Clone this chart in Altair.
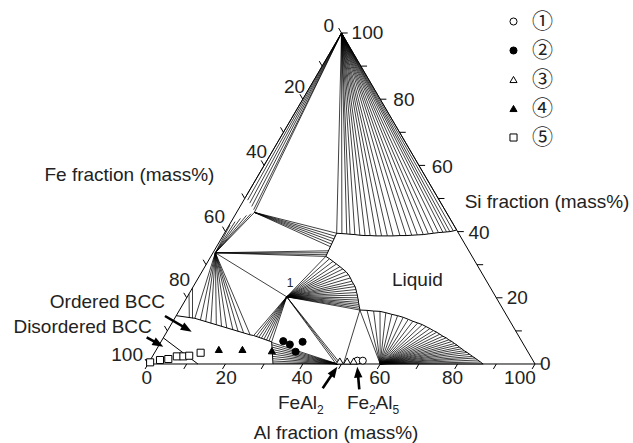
import math
import altair as alt
import pandas as pd

# ---------------- measured data (ternary, mass%: Al, Si; Fe = 100 - Al - Si) ----------------
series = ["①", "②", "③", "④", "⑤"]
s1_al = [53.6, 55.0]
s1_si = [1.0, 1.0]
s2_al = [31.5, 33.7, 36.6, 36.3]
s2_si = [6.9, 5.9, 6.7, 3.7]
s3_al = [49.1, 51.0, 52.7]
s3_si = [0.9, 0.9, 0.9]
s4_al = [16.1, 22.2, 30.0]
s4_si = [4.4, 4.4, 4.0]
s5_al = [0.3, 2.5, 4.5, 6.3, 8.0, 9.4, 11.9]
s5_si = [0.5, 1.2, 1.5, 2.3, 2.3, 2.5, 3.4]

tick_values = [0, 10, 20, 30, 40, 50, 60, 70, 80, 90, 100]
label_values = [0, 20, 40, 60, 80, 100]

# invariant points (Al, Si)
si_corner = (0.0, 100.0)
node_A = (0.6, 33.6)
node_B = (4.6, 45.8)
node_E = (25.7, 20.3)
node_F = (46.6, 16.3)
node_FeAl2 = (49.0, 0.0)
node_Al60 = (60.0, 0.0)

# Si-rich liquidus: ends of tie-lines from the Si corner
liq1_al = [29.0, 30.4, 31.7, 32.6, 33.9, 35.3, 36.7, 38.0, 39.6, 41.0, 42.5, 44.0, 45.7,
           47.3, 48.7, 50.1, 51.6, 52.8, 54.0, 55.2, 56.3, 57.2, 58.0, 58.8, 59.5]
liq1_si = [39.5, 39.4, 39.3, 39.2, 39.1, 38.9, 38.8, 38.8, 38.7, 38.7, 38.7, 38.7, 38.8,
           38.8, 38.9, 39.0, 39.1, 39.3, 39.5, 39.7, 39.8, 39.9, 40.0, 40.2, 40.5]
# Si-corner tie-lines to the FeSi2 side
fesi2_al = [0.0, 1.0, 2.0, 3.0, 4.0, 4.6]
fesi2_si = [50.5, 49.5, 48.6, 47.6, 46.6, 45.8]
# FeSi (A) to FeSi2 side
afesi2_al = [0.2, 1.0, 1.9, 3.0, 3.9, 4.6]
afesi2_si = [42.0, 43.0, 44.0, 44.9, 45.4, 45.8]
# B to liquid (C-D)
bliq_al = [29.0, 29.1, 29.2, 29.3, 29.4, 29.5]
bliq_si = [39.5, 38.6, 37.8, 37.0, 36.2, 35.4]
# A to liquid near D
aliq_al = [29.6, 29.6, 29.7, 29.7]
aliq_si = [34.2, 33.6, 33.0, 32.5]
# liquidus D-F: ends of tie-lines from compound 1 (E)
liq2_al = [29.7, 31.0, 32.3, 33.6, 34.9, 36.0, 37.2, 38.3, 39.3, 40.2, 41.0, 41.8, 42.5,
           43.1, 43.7, 44.2, 44.7, 45.1, 45.5, 45.9, 46.3, 46.6]
liq2_si = [32.5, 31.8, 31.0, 30.2, 29.4, 28.7, 27.9, 27.0, 26.0, 25.0, 24.2, 23.4, 22.5,
           21.6, 20.8, 20.0, 19.3, 18.6, 18.0, 17.4, 16.8, 16.3]
# Al-rich liquidus F-G: ends of tie-lines from the Al 60 % phase
liq3_al = [46.6, 48.5, 50.3, 52.0, 53.7, 55.5, 57.2, 58.9, 60.5, 62.0, 63.5, 64.9, 66.2,
           67.5, 68.7, 69.8, 70.9, 72.0, 73.1, 74.1, 75.1, 76.1, 77.0, 77.9, 78.8, 79.7,
           80.7, 81.7, 82.7, 83.6, 84.6, 85.6, 86.6]
liq3_si = [16.3, 16.2, 16.0, 15.9, 15.5, 15.0, 14.6, 14.1, 13.5, 12.9, 12.4, 11.9, 11.3,
           10.7, 10.1, 9.6, 9.0, 8.4, 7.9, 7.3, 6.8, 6.2, 5.7, 5.1, 4.6, 4.0,
           3.5, 2.9, 2.3, 1.8, 1.2, 0.6, 0.0]
# ordered BCC boundary: tie-line ends from A, E and FeAl2
bcc_a_al = [5.2, 6.9, 8.5, 10.1, 11.7, 13.3, 14.9, 16.8, 18.4, 20.0, 22.0]
bcc_a_si = [13.8, 13.3, 12.8, 12.3, 11.9, 11.4, 10.9, 10.3, 9.8, 9.4, 8.8]
bcc_e_al = [23.0, 23.8, 24.6, 25.4, 26.2, 27.0, 27.8, 28.6]
bcc_e_si = [8.6, 8.3, 8.1, 7.8, 7.5, 7.2, 6.9, 6.7]
bcc_f_al = [28.7, 29.1, 29.5, 29.9, 30.3, 30.7, 31.1, 31.5, 31.9, 32.2]
bcc_f_si = [6.5, 5.8, 5.1, 4.4, 3.7, 3.0, 2.3, 1.6, 0.9, 0.3]
bnd_al = [0.0, 5.2, 22.0, 23.0, 28.6, 32.3]
bnd_si = [14.6, 13.8, 8.8, 8.6, 6.7, 0.0]
edge_si = [23.0, 21.2]
edge_end_al = [4.6, 3.7]
edge_end_si = [13.8, 13.95]
dis_al = [0.0, 12.9]
dis_si = [7.9, 0.0]
e_bottom_al = [48.6, 49.2, 49.8]
f_bottom_al = [50.5]

# tick-label anchors (x = Al + Si/2, y = Si)
left_lab_x = [48.1, 40.6, 30.8, 19.9, 10.9, -1.3]
left_lab_y = [102.1, 83.7, 64.0, 44.5, 25.4, 2.6]
right_lab_x = [101.3, 92.7, 82.8, 73.3, 63.4, 52.6]
right_lab_y = [0.0, 19.9, 39.6, 59.6, 79.8, 99.9]
bottom_lab_x = [-0.3, 20.2, 39.8, 59.9, 78.7, 96.1]
bottom_lab_y = -4.2

# ---------------- frame ----------------
X_DOMAIN = [-38.24, 125.32]
Y_DOMAIN = [-23.87, 109.97]
W, H = 633, 443
PXX = W / (X_DOMAIN[1] - X_DOMAIN[0])
PXY = H / (Y_DOMAIN[1] - Y_DOMAIN[0])
FONT = "Liberation Sans"


def tx(al, si):
    return al + si / 2.0


segs = []


def seg(p, q):
    segs.append(dict(x=tx(*p), y=p[1], x2=tx(*q), y2=q[1]))


fans = [
    (si_corner, liq1_al, liq1_si),
    (si_corner, fesi2_al, fesi2_si),
    (node_A, afesi2_al, afesi2_si),
    (node_B, bliq_al, bliq_si),
    (node_A, aliq_al, aliq_si),
    (node_E, liq2_al, liq2_si),
    (node_Al60, liq3_al, liq3_si),
    (node_A, bcc_a_al, bcc_a_si),
    (node_E, bcc_e_al, bcc_e_si),
    (node_FeAl2, bcc_f_al, bcc_f_si),
]
for origin, als, sis in fans:
    for a, s in zip(als, sis):
        seg(origin, (a, s))
for s, a2, s2 in zip(edge_si, edge_end_al, edge_end_si):
    seg((0.0, s), (a2, s2))
seg(node_A, node_E)
for a in e_bottom_al:
    seg(node_E, (a, 0.0))
for a in f_bottom_al:
    seg(node_F, (a, 0.0))

ticks = []
for v in tick_values:
    ticks.append(dict(x=tx(v, 0), y=0.0, x2=tx(v, 0) - 0.75, y2=-1.5))          # Al axis
    ticks.append(dict(x=tx(100 - v, v), y=v, x2=tx(100 - v, v) + 1.6, y2=v))    # Si axis
    s = 100 - v
    ticks.append(dict(x=tx(0, s), y=s, x2=s / 2 - 0.75, y2=s + 1.5))            # Fe axis

lines = []


def poly(name, als, sis):
    for i, (a, s) in enumerate(zip(als, sis)):
        lines.append(dict(name=name, i=i, x=tx(a, s), y=s))


poly("frame", [0, 100, 0, 0], [0, 0, 100, 0])
poly("liq1", liq1_al, liq1_si)
poly("cd", [liq1_al[0], liq2_al[0]], [liq1_si[0], liq2_si[0]])
poly("liq2", liq2_al, liq2_si)
poly("liq3", liq3_al, liq3_si)
poly("bnd", bnd_al, bnd_si)
poly("dis", dis_al, dis_si)

xs = alt.Scale(domain=X_DOMAIN, nice=False, zero=False)
ys = alt.Scale(domain=Y_DOMAIN, nice=False, zero=False)
X = alt.X("x:Q", scale=xs, axis=None)
Y = alt.Y("y:Q", scale=ys, axis=None)

seg_layer = alt.Chart(pd.DataFrame(segs)).mark_rule(color="black", strokeWidth=0.75).encode(
    x=X, y=Y, x2="x2:Q", y2="y2:Q")
tick_layer = alt.Chart(pd.DataFrame(ticks)).mark_rule(color="black", strokeWidth=1).encode(
    x=X, y=Y, x2="x2:Q", y2="y2:Q")
line_layer = alt.Chart(pd.DataFrame(lines)).mark_line(color="black", strokeWidth=1).encode(
    x=X, y=Y, detail="name:N", order="i:Q")

# tick labels
lab_left = pd.DataFrame(dict(t=[str(v) for v in label_values], x=left_lab_x, y=left_lab_y))
lab_right = pd.DataFrame(dict(t=[str(v) for v in label_values], x=right_lab_x, y=right_lab_y))
lab_bottom = pd.DataFrame(dict(t=[str(v) for v in label_values], x=bottom_lab_x,
                               y=[bottom_lab_y] * len(label_values)))


def text_layer(df, align, size=19):
    return alt.Chart(df).mark_text(align=align, baseline="middle", font=FONT, fontSize=size,
                                   color="#222222").encode(x=X, y=Y, text="t:N")


titles = pd.DataFrame(dict(
    t=["Fe fraction (mass%)", "Si fraction (mass%)", "Al fraction (mass%)",
       "Ordered BCC", "Disordered BCC", "Liquid"],
    x=[-4.8, 103.1, 48.6, -10.5, -16.9, 69.6],
    y=[57.1, 49.0, -20.9, 18.7, 11.3, 25.4]))
one = pd.DataFrame(dict(t=["1"], x=[36.7], y=[24.6]))
main_txt = pd.DataFrame(dict(t=["FeAl", "Fe", "Al"], x=[33.59, 51.42, 58.79], y=[-11.87] * 3))
sub_txt = pd.DataFrame(dict(t=["2", "2", "5"], x=[43.67, 57.1, 63.18], y=[-13.75] * 3))

# arrows (start, tip) in (x, y)
arrows = [((4.39, 14.5), (11.29, 9.76)),
          ((-0.34, 8.07), (3.95, 5.23)),
          ((45.14, -7.34), (48.91, -0.82)),
          ((54.6, -7.64), (54.08, -0.82))]
shafts, heads = [], []
for (x0, y0), (x1, y1) in arrows:
    dxp, dyp = (x1 - x0) * PXX, -(y1 - y0) * PXY
    L = math.hypot(dxp, dyp)
    ang = math.degrees(math.atan2(dxp, -dyp)) % 360
    back = 5.0 / L
    shafts.append(dict(x=x0, y=y0, x2=x1 - (x1 - x0) * back, y2=y1 - (y1 - y0) * back))
    heads.append(dict(x=x1, y=y1, ang=ang))
shaft_layer = alt.Chart(pd.DataFrame(shafts)).mark_rule(color="black", strokeWidth=2.6).encode(
    x=X, y=Y, x2="x2:Q", y2="y2:Q")
head_layer = alt.Chart(pd.DataFrame(heads)).mark_point(
    shape="M0,0L0.8,2.1L-0.8,2.1Z", filled=True, color="black", opacity=1, size=110).encode(
    x=X, y=Y, angle=alt.Angle("ang:Q", scale=None))

# samples
rows = []
for name, als, sis in zip(series, [s1_al, s2_al, s3_al, s4_al, s5_al],
                          [s1_si, s2_si, s3_si, s4_si, s5_si]):
    for a, s in zip(als, sis):
        rows.append(dict(series=name, x=tx(a, s), y=s))
pts = pd.DataFrame(rows)
leg = alt.Legend(title=None, orient="none", legendX=503, legendY=11, symbolSize=50,
                 labelFontSize=21, labelFont="Noto Sans CJK JP", labelColor="#222222",
                 rowPadding=7, labelOffset=8, symbolStrokeWidth=1)
point_layer = alt.Chart(pts).mark_point(size=50, strokeWidth=1, opacity=1).encode(
    x=X, y=Y,
    shape=alt.Shape("series:N", scale=alt.Scale(
        domain=series, range=["circle", "circle", "triangle-up", "triangle-up", "square"]),
        legend=leg),
    fill=alt.Fill("series:N", scale=alt.Scale(
        domain=series, range=["white", "black", "white", "black", "white"]), legend=leg),
    stroke=alt.Stroke("series:N", scale=alt.Scale(
        domain=series, range=["black", "black", "black", "black", "black"]), legend=leg),
)

chart = alt.layer(
    seg_layer, line_layer, tick_layer,
    text_layer(lab_left, "right"), text_layer(lab_right, "left"), text_layer(lab_bottom, "center"),
    text_layer(titles, "center"), text_layer(one, "center", 12),
    text_layer(main_txt, "left"), text_layer(sub_txt, "left", 12),
    shaft_layer, head_layer, point_layer,
).properties(
    width=W, height=H, autosize=alt.AutoSizeParams(type="none"), padding=0,
    background="white"
).configure_view(strokeWidth=0)

chart.save("out.html", embed_options={"renderer": "svg", "actions": False})
